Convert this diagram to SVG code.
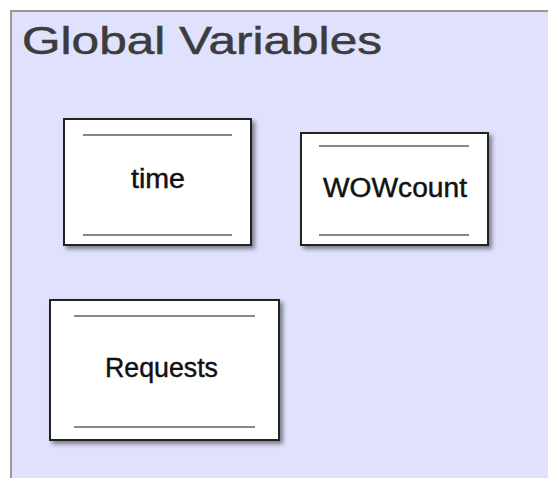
<svg xmlns="http://www.w3.org/2000/svg" width="548" height="478" viewBox="0 0 548 478">
  <defs>
    <filter id="shadow" x="-10%" y="-10%" width="130%" height="130%">
      <feDropShadow dx="3" dy="3" stdDeviation="2" flood-color="#000" flood-opacity="0.45"/>
    </filter>
  </defs>
  <style>
    .container { fill: #dfe1fd; stroke: #999999; stroke-width: 2; }
    .title { font-family: "Liberation Sans", Arial, sans-serif; font-size: 38px; fill: #3c3c3c; stroke: #3c3c3c; stroke-width: 0.5; }
    .box { fill: #ffffff; stroke: #222222; stroke-width: 2; filter: url(#shadow); }
    .sep { stroke: #888888; stroke-width: 2; }
    .label { font-family: "Liberation Sans", Arial, sans-serif; font-size: 27px; fill: #111111; stroke: #111111; stroke-width: 0.45; }
  </style>
  <rect width="548" height="478" fill="#ffffff"/>
  <g id="global-variables">
    <rect class="container" x="11" y="11" width="545" height="475"/>
    <text class="title" x="22" y="54" textLength="360" lengthAdjust="spacingAndGlyphs">Global Variables</text>
  </g>
  <g id="time">
    <rect class="box" x="64" y="119" width="187" height="126"/>
    <line class="sep" x1="83" y1="135" x2="232" y2="135"/>
    <line class="sep" x1="83" y1="235" x2="232" y2="235"/>
    <text class="label" x="131" y="188" textLength="54" lengthAdjust="spacingAndGlyphs">time</text>
  </g>
  <g id="WOWcount">
    <rect class="box" x="301" y="133" width="187" height="112"/>
    <line class="sep" x1="319" y1="146" x2="469" y2="146"/>
    <line class="sep" x1="319" y1="235" x2="469" y2="235"/>
    <text class="label" x="323" y="196.5" textLength="144" lengthAdjust="spacingAndGlyphs">WOWcount</text>
  </g>
  <g id="Requests">
    <rect class="box" x="50" y="300" width="229" height="140"/>
    <line class="sep" x1="74" y1="316" x2="255" y2="316"/>
    <line class="sep" x1="74" y1="427" x2="255" y2="427"/>
    <text class="label" x="105" y="376.5" textLength="113" lengthAdjust="spacingAndGlyphs">Requests</text>
  </g>
  <g id="connectors"></g>
</svg>
